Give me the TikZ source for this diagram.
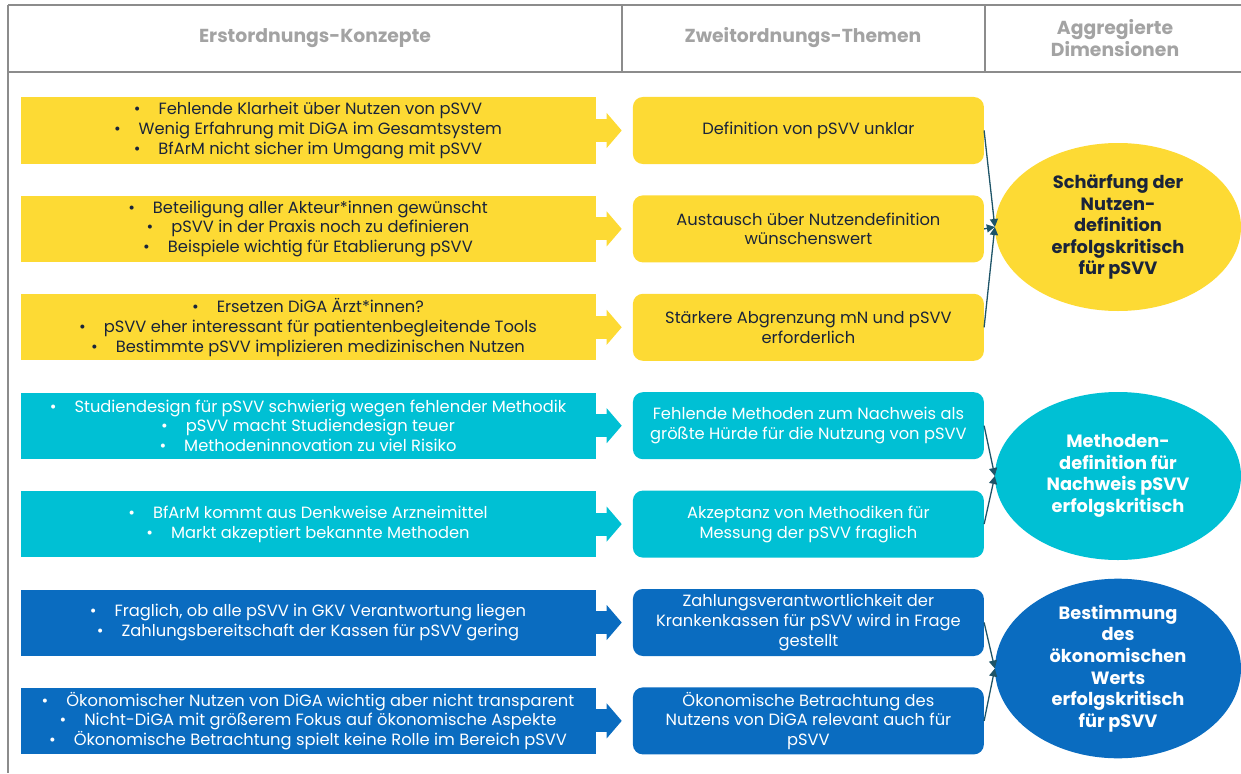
\documentclass[tikz,border=0pt]{standalone}
\usepackage{fontspec}
\setmainfont{Poppins}
\usetikzlibrary{arrows.meta,shapes.geometric,positioning}
\definecolor{dimYellow}{RGB}{253,218,52}
\definecolor{dimCyan}{RGB}{0,192,212}
\definecolor{dimBlue}{RGB}{10,108,192}
\definecolor{inkNavy}{RGB}{26,36,58}
\definecolor{headGray}{RGB}{163,163,163}
\definecolor{ruleGray}{RGB}{140,140,140}
\definecolor{linkTeal}{RGB}{30,84,104}
\newcommand{\bitem}[1]{\textbullet\hspace{18pt}#1}

\begin{document}
\begin{tikzpicture}[
  x=1pt, y=-1pt,
  font=\fontsize{16.3}{19.8}\selectfont,
  node distance=32pt,
  concept/.style={minimum width=575pt,minimum height=66pt,inner sep=0pt,
                  align=center},
  theme/.style={rounded corners=10pt,minimum width=351pt,minimum height=67pt,
                inner sep=3pt,align=center},
  dimension/.style={ellipse,minimum width=246pt,minimum height=168pt,
                    inner sep=0pt,align=center,
                    font=\fontsize{17.8}{21.6}\selectfont\bfseries},
  colhead/.style={text=headGray,align=center,
                  font=\fontsize{18.8}{22}\selectfont\bfseries},
  sepline/.style={ruleGray,line width=1.6pt},
  fat/.style={line width=23pt,shorten >=11pt,
              -{Triangle[length=15pt 0 0,width=35pt 0 0,line width=0pt 0 0]}},
  dimlink/.style={linkTeal,line width=1.3pt,-{Triangle[length=8pt,width=8pt]}},
]
  \useasboundingbox (0,0) rectangle (1241,773);

  % header
  \draw[sepline] (8,5) -- (1241,5);
  \draw[sepline] (8,72) -- (1241,72);
  \draw[sepline] (8,5) -- (8,773);
  \draw[sepline] (622,5) -- (622,72);
  \draw[sepline] (985,5) -- (985,72);
  \node[colhead] (h1) at (315,38) {Erstordnungs-Konzepte};
  \node[colhead] (h2) at (803,38) {Zweitordnungs-Themen};
  \node[colhead] (h3) at (1115,38) {Aggregierte\\Dimensionen};

  % first order concepts
  \node[concept,fill=dimYellow,text=inkNavy] (c1) at (308,130.5)
    {\bitem{Fehlende Klarheit über Nutzen von pSVV}\\
     \bitem{Wenig Erfahrung mit DiGA im Gesamtsystem}\\
     \bitem{BfArM nicht sicher im Umgang mit pSVV}};
  \node[concept,fill=dimYellow,text=inkNavy,below=of c1] (c2)
    {\bitem{Beteiligung aller Akteur*innen gewünscht}\\
     \bitem{pSVV in der Praxis noch zu definieren}\\
     \bitem{Beispiele wichtig für Etablierung pSVV}};
  \node[concept,fill=dimYellow,text=inkNavy,below=of c2] (c3)
    {\bitem{Ersetzen DiGA Ärzt*innen?}\\
     \bitem{pSVV eher interessant für patientenbegleitende Tools}\\
     \bitem{Bestimmte pSVV implizieren medizinischen Nutzen}};
  \node[concept,fill=dimCyan,text=white,below=of c3] (c4)
    {\bitem{Studiendesign für pSVV schwierig wegen fehlender Methodik}\\
     \bitem{pSVV macht Studiendesign teuer}\\
     \bitem{Methodeninnovation zu viel Risiko}};
  \node[concept,fill=dimCyan,text=white,below=of c4] (c5)
    {\bitem{BfArM kommt aus Denkweise Arzneimittel}\\
     \bitem{Markt akzeptiert bekannte Methoden}};
  \node[concept,fill=dimBlue,text=white,below=of c5] (c6)
    {\bitem{Fraglich, ob alle pSVV in GKV Verantwortung liegen}\\
     \bitem{Zahlungsbereitschaft der Kassen für pSVV gering}};
  \node[concept,fill=dimBlue,text=white,below=of c6] (c7)
    {\bitem{Ökonomischer Nutzen von DiGA wichtig aber nicht transparent}\\
     \bitem{Nicht-DiGA mit größerem Fokus auf ökonomische Aspekte}\\
     \bitem{Ökonomische Betrachtung spielt keine Rolle im Bereich pSVV}};

  % second order themes
  \node[theme,fill=dimYellow,text=inkNavy,right=37pt of c1] (t1)
    {Definition von pSVV unklar};
  \node[theme,fill=dimYellow,text=inkNavy,right=37pt of c2] (t2)
    {Austausch über Nutzendefinition\\wünschenswert};
  \node[theme,fill=dimYellow,text=inkNavy,right=37pt of c3] (t3)
    {Stärkere Abgrenzung mN und pSVV\\erforderlich};
  \node[theme,fill=dimCyan,text=white,right=37pt of c4] (t4)
    {Fehlende Methoden zum Nachweis als\\größte Hürde für die Nutzung von pSVV};
  \node[theme,fill=dimCyan,text=white,right=37pt of c5] (t5)
    {Akzeptanz von Methodiken für\\Messung der pSVV fraglich};
  \node[theme,fill=dimBlue,text=white,right=37pt of c6] (t6)
    {Zahlungsverantwortlichkeit der\\Krankenkassen für pSVV wird in Frage\\gestellt};
  \node[theme,fill=dimBlue,text=white,right=37pt of c7] (t7)
    {Ökonomische Betrachtung des\\Nutzens von DiGA relevant auch für\\pSVV};

  % aggregate dimensions
  \node[dimension,fill=dimYellow,text=inkNavy] (d1) at (1118,227)
    {Schärfung der\\Nutzen-\\definition\\erfolgskritisch\\für pSVV};
  \node[dimension,fill=dimCyan,text=white] (d2) at (1118,476)
    {Methoden-\\definition für\\Nachweis pSVV\\erfolgskritisch};
  \node[dimension,fill=dimBlue,text=white] (d3) at (1118,668.5)
    {Bestimmung\\des\\ökonomischen\\Werts\\erfolgskritisch\\für pSVV};

  \draw[fat,dimYellow] (c1.east) -- (t1.west);
  \draw[fat,dimYellow] (c2.east) -- (t2.west);
  \draw[fat,dimYellow] (c3.east) -- (t3.west);
  \draw[fat,dimCyan] (c4.east) -- (t4.west);
  \draw[fat,dimCyan] (c5.east) -- (t5.west);
  \draw[fat,dimBlue] (c6.east) -- (t6.west);
  \draw[fat,dimBlue] (c7.east) -- (t7.west);

  \draw[dimlink] (t1.east) -- (d1.west);
  \draw[dimlink] (t2.east) -- (d1.west);
  \draw[dimlink] (t3.east) -- (d1.west);
  \draw[dimlink] (t4.east) -- (d2.west);
  \draw[dimlink] (t5.east) -- (d2.west);
  \draw[dimlink] (t6.east) -- (d3.west);
  \draw[dimlink] (t7.east) -- (d3.west);
\end{tikzpicture}
\end{document}
